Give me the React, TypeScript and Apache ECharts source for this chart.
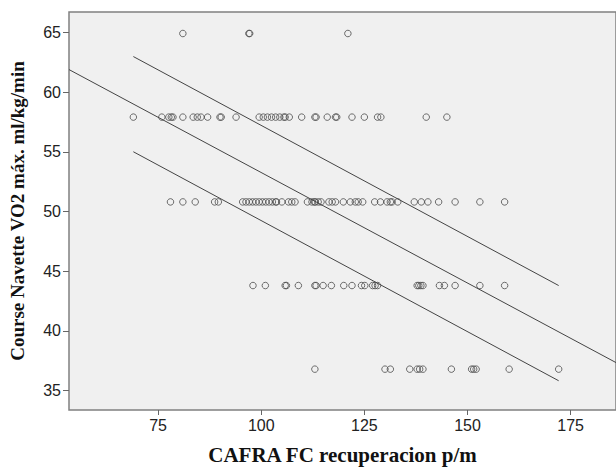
import React, { useEffect, useRef } from "react";
import * as echarts from "echarts";

const xTicks = [75, 100, 125, 150, 175];
const yTicks = [35, 40, 45, 50, 55, 60, 65];

const levelY = [64.9, 57.9, 50.8, 43.8, 36.8];

const x65 = [81, 97, 97.2, 121];
const x58 = [69, 75.9, 77.6, 78.2, 78.6, 81, 83.5, 84.5, 85.4, 87, 90, 90.3, 93.9, 99.5, 100.5, 101.5, 102.5, 103.5, 104.5, 105.5, 105.8, 106.8, 109.8, 113, 113.3, 116, 118, 118.3, 122, 125, 128.2, 129, 140, 145];
const x51 = [78, 81, 84, 88.7, 89.6, 95.5, 96.3, 97.1, 97.9, 98.7, 99.5, 100.3, 101.1, 101.9, 102.7, 103.5, 103.7, 105, 106.6, 107.4, 108.2, 111.2, 112.3, 112.9, 113.1, 113.8, 114.5, 116.4, 117.2, 118, 119.9, 121.6, 122.8, 123.5, 124.6, 127.5, 128.9, 130.5, 131.3, 131.7, 133.1, 137.1, 138.8, 140.4, 143, 147, 153, 159];
const x44 = [98, 101, 105.8, 106.1, 109, 113, 113.3, 115, 117, 120, 122, 124.3, 125.1, 127, 127.6, 128.2, 137.8, 138.2, 138.7, 139.2, 143.2, 144.4, 147, 153, 159];
const x37 = [113, 130, 131.3, 136, 137.8, 138.4, 139.2, 146.1, 151, 151.5, 152.1, 160.1, 172.1];

const fitX = [53.4, 186];
const fitY = [61.88, 37.35];
const upperX = [69, 172.1];
const upperY = [62.97, 43.8];
const lowerX = [69, 172.1];
const lowerY = [55.0, 35.83];

export default function App() {
  const ref = useRef<HTMLDivElement>(null);
  useEffect(() => {
    document.body.style.margin = "0";
    const chart = echarts.init(ref.current!, null, { renderer: "svg" });
    const rows = [x65, x58, x51, x44, x37];
    const points: number[][] = [];
    rows.forEach((r, i) => r.forEach((x) => points.push([x, levelY[i]])));
    const lineSeries = (xs: number[], ys: number[]) => ({
      type: "line",
      data: xs.map((x, i) => [x, ys[i]]),
      symbol: "none",
      lineStyle: { color: "#444", width: 1 },
      silent: true,
    });
    chart.setOption({
      animation: false,
      grid: {
        left: 67,
        top: 12,
        width: 564,
        bottom: 52,
        show: true,
        backgroundColor: "#f0f0f0",
        borderColor: "#808080",
        borderWidth: 1.5,
      },
      xAxis: {
        type: "value",
        min: 53.4,
        max: 186,
        name: "CAFRA FC recuperacion p/m",
        nameLocation: "middle",
        nameGap: 34,
        nameTextStyle: {
          fontFamily: "Liberation Serif",
          fontWeight: "bold",
          fontSize: 21,
          color: "#111",
        },
        axisLine: { show: false },
        splitLine: { show: false },
        axisTick: { show: true, length: 5, customValues: xTicks, lineStyle: { color: "#666" } },
        axisLabel: {
          customValues: xTicks,
          fontFamily: "Liberation Sans",
          fontSize: 16,
          color: "#222",
          margin: 7,
        },
      },
      yAxis: {
        type: "value",
        min: 33.38,
        max: 66.7,
        name: "Course Navette VO2 máx. ml/kg/min",
        nameLocation: "middle",
        nameGap: 42,
        nameTextStyle: {
          fontFamily: "Liberation Serif",
          fontWeight: "bold",
          fontSize: 19,
          color: "#111",
        },
        axisLine: { show: false },
        splitLine: { show: false },
        axisTick: { show: true, length: 6, customValues: yTicks, lineStyle: { color: "#666" } },
        axisLabel: {
          customValues: yTicks,
          fontFamily: "Liberation Sans",
          fontSize: 16,
          color: "#222",
          margin: 8,
        },
      },
      series: [
        lineSeries(fitX, fitY),
        lineSeries(upperX, upperY),
        lineSeries(lowerX, lowerY),
        {
          type: "scatter",
          data: points,
          symbol: "circle",
          symbolSize: 6.5,
          itemStyle: { color: "rgba(0,0,0,0)", borderColor: "#4a4a4a", borderWidth: 1 },
        },
      ],
    });
    return () => chart.dispose();
  }, []);
  return <div ref={ref} style={{ width: 616, height: 470 }} />;
}
